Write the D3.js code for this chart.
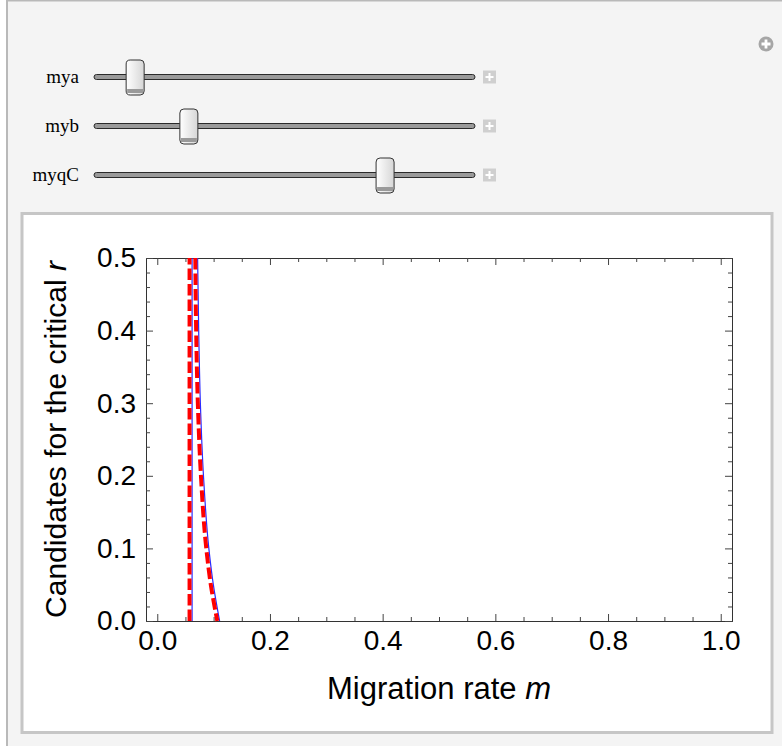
<!DOCTYPE html>
<html>
<head>
<meta charset="utf-8">
<script src="https://cdn.jsdelivr.net/npm/d3@7"></script>
<style>
  html, body { margin: 0; padding: 0; background: #fff; }
  svg { display: block; }
</style>
</head>
<body>
<svg id="chart" width="782" height="746"></svg>
<script>
// slider controls
var sliderNames = ["mya", "myb", "myqC"];
var sliderValues = [0.108, 0.249, 0.764];

// axis ticks
var xMajorTicks = [0.0, 0.2, 0.4, 0.6, 0.8, 1.0];
var xMinorTicks = [0.05, 0.1, 0.15, 0.25, 0.3, 0.35, 0.45, 0.5, 0.55, 0.65, 0.7, 0.75, 0.85, 0.9, 0.95];
var yMajorTicks = [0.0, 0.1, 0.2, 0.3, 0.4, 0.5];
var yMinorTicks = [0.02, 0.04, 0.06, 0.08, 0.12, 0.14, 0.16, 0.18, 0.22, 0.24, 0.26, 0.28,
                   0.32, 0.34, 0.36, 0.38, 0.42, 0.44, 0.46, 0.48];

// blue solid curves (m, r)
var blueVertM = [0.0618, 0.0618];
var blueVertR = [0.0, 0.5];
var blueCurveM = [0.0716, 0.0735, 0.0765, 0.0820, 0.0915, 0.0995, 0.1106];
var blueCurveR = [0.5, 0.4, 0.3, 0.2, 0.1, 0.05, 0.0];

// red dashed curves (m, r)
var redVertM = [0.0573, 0.0573];
var redVertR = [0.0, 0.5];
var redCurveM = [0.0675, 0.0690, 0.0720, 0.0775, 0.0870, 0.0950, 0.1066];
var redCurveR = [0.5, 0.4, 0.3, 0.2, 0.1, 0.05, 0.0];

var svg = d3.select("#chart");

//panel background
svg.append("rect")
    .attr("x", 7).attr("y", 0.5)
    .attr("width", 790).attr("height", 760)
    .attr("fill", "#f4f4f4")
    .attr("stroke", "#b9b9b9")
    .attr("stroke-width", 2);

//add-controls icon
var plus = svg.append("g").attr("transform", "translate(766,44)");
plus.append("circle").attr("r", 7.5).attr("fill", "#a6a6a6");
plus.append("path").attr("d", "M-4.5,0H4.5M0,-4.5V4.5").attr("stroke", "#fff").attr("stroke-width", 2.8);

//sliders
var trackX = d3.scaleLinear().domain([0, 1]).range([94, 475]);
var sliderRows = d3.scaleOrdinal().domain(sliderNames).range([77, 126, 175]);

var defs = svg.append("defs");
var grad = defs.append("linearGradient").attr("id", "thumbGrad")
    .attr("x1", 0).attr("x2", 1).attr("y1", 0).attr("y2", 0);
grad.append("stop").attr("offset", "0%").attr("stop-color", "#ffffff");
grad.append("stop").attr("offset", "100%").attr("stop-color", "#d6d6d6");

var rows = svg.selectAll(".slider")
    .data(sliderNames)
    .enter().append("g")
    .attr("class", "slider")
    .attr("transform", function (d) { return "translate(0," + sliderRows(d) + ")"; });

rows.append("text")
    .attr("x", 79).attr("y", 6)
    .attr("text-anchor", "end")
    .attr("font-family", "'Liberation Serif', 'DejaVu Serif', serif")
    .attr("font-size", 19)
    .text(function (d) { return d; });

rows.append("rect")
    .attr("x", trackX(0)).attr("y", -2.5)
    .attr("width", trackX(1) - trackX(0)).attr("height", 5)
    .attr("rx", 2.5)
    .attr("fill", "#9a9a9a")
    .attr("stroke", "#2a2a2a")
    .attr("stroke-width", 1);

rows.append("rect")
    .attr("x", function (d, i) { return trackX(sliderValues[i]) - 9; })
    .attr("y", -17)
    .attr("width", 18).attr("height", 35)
    .attr("rx", 4)
    .attr("fill", "url(#thumbGrad)")
    .attr("stroke", "#333")
    .attr("stroke-width", 1);

rows.append("rect")
    .attr("x", function (d, i) { return trackX(sliderValues[i]) - 8; })
    .attr("y", 12)
    .attr("width", 16).attr("height", 4)
    .attr("fill", "#9a9a9a");

var pb = rows.append("g").attr("transform", "translate(489,0)");
pb.append("rect").attr("x", -6).attr("y", -6.5).attr("width", 13).attr("height", 13).attr("fill", "#cfcfcf");
pb.append("path").attr("d", "M-3.5,0H4.5M0.5,-4V4").attr("stroke", "#fff").attr("stroke-width", 2);

//white plot box
svg.append("rect")
    .attr("x", 22).attr("y", 213.5)
    .attr("width", 750).attr("height", 519)
    .attr("fill", "#fff")
    .attr("stroke", "#c6c6c6")
    .attr("stroke-width", 3);

//scales
var x = d3.scaleLinear().domain([-0.02, 1.02]).range([146, 732]);
var y = d3.scaleLinear().domain([0, 0.5]).range([621, 258]);

var tickFont = "'Liberation Sans', Arial, sans-serif";

//bottom axis
var gx = svg.append("g").attr("transform", "translate(0," + y(0) + ")")
    .call(d3.axisBottom(x).tickValues(xMajorTicks).tickSize(-7).tickPadding(9)
        .tickFormat(d3.format(".1f")));
gx.selectAll("text").attr("font-size", 28).attr("font-family", tickFont).attr("fill", "#000").attr("dy", "0.72em");

svg.append("g").attr("transform", "translate(0," + y(0) + ")")
    .call(d3.axisBottom(x).tickValues(xMinorTicks).tickSize(-4).tickFormat(""))
    .call(function (g) { g.select(".domain").remove(); });

//top axis
svg.append("g").attr("transform", "translate(0," + y(0.5) + ")")
    .call(d3.axisTop(x).tickValues(xMajorTicks).tickSize(-7).tickFormat(""));
svg.append("g").attr("transform", "translate(0," + y(0.5) + ")")
    .call(d3.axisTop(x).tickValues(xMinorTicks).tickSize(-4).tickFormat(""))
    .call(function (g) { g.select(".domain").remove(); });

//left axis
var gy = svg.append("g").attr("transform", "translate(" + x(-0.02) + ",0)")
    .call(d3.axisLeft(y).tickValues(yMajorTicks).tickSize(-7).tickPadding(10)
        .tickFormat(d3.format(".1f")));
gy.selectAll("text").attr("font-size", 28).attr("font-family", tickFont).attr("fill", "#000");

svg.append("g").attr("transform", "translate(" + x(-0.02) + ",0)")
    .call(d3.axisLeft(y).tickValues(yMinorTicks).tickSize(-4).tickFormat(""))
    .call(function (g) { g.select(".domain").remove(); });

//right axis
svg.append("g").attr("transform", "translate(" + x(1.02) + ",0)")
    .call(d3.axisRight(y).tickValues(yMajorTicks).tickSize(-7).tickFormat(""));
svg.append("g").attr("transform", "translate(" + x(1.02) + ",0)")
    .call(d3.axisRight(y).tickValues(yMinorTicks).tickSize(-4).tickFormat(""))
    .call(function (g) { g.select(".domain").remove(); });

svg.selectAll(".domain").attr("stroke", "#333");
svg.selectAll(".tick line").attr("stroke", "#444");

//curves
var line = d3.line()
    .x(function (d) { return x(d[0]); })
    .y(function (d) { return y(d[1]); })
    .curve(d3.curveMonotoneY);

function pairs(ms, rs) { return ms.map(function (m, i) { return [m, rs[i]]; }); }

var plot = svg.append("g");

[pairs(blueVertM, blueVertR), pairs(blueCurveM, blueCurveR)].forEach(function (pts) {
    plot.append("path")
        .attr("d", line(pts))
        .attr("fill", "none")
        .attr("stroke", "#2b2bff")
        .attr("stroke-width", 1.2);
});

[pairs(redVertM, redVertR), pairs(redCurveM, redCurveR)].forEach(function (pts) {
    plot.append("path")
        .attr("d", line(pts))
        .attr("fill", "none")
        .attr("stroke", "#ff0000")
        .attr("stroke-width", 4)
        .attr("stroke-dasharray", "11.5,4");
});

//axis labels
svg.append("text")
    .attr("x", (x(-0.02) + x(1.02)) / 2).attr("y", 699)
    .attr("text-anchor", "middle")
    .attr("font-family", tickFont)
    .attr("font-size", 31)
    .html("Migration rate <tspan font-style='italic'>m</tspan>");

svg.append("text")
    .attr("transform", "translate(66," + (y(0) + y(0.5)) / 2 + ") rotate(-90)")
    .attr("text-anchor", "middle")
    .attr("font-family", tickFont)
    .attr("font-size", 30)
    .html("Candidates for the critical <tspan font-style='italic'>r</tspan>");
</script>
</body>
</html>
